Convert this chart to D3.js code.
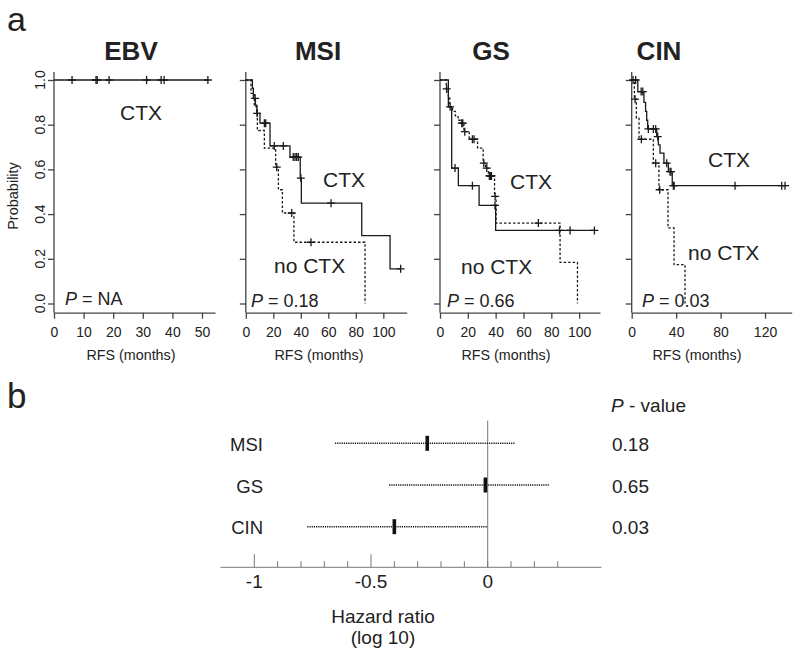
<!DOCTYPE html>
<html>
<head>
<meta charset="utf-8">
<script src="https://cdn.jsdelivr.net/npm/d3@7"></script>
<style>
  body { margin: 0; background: #fff; }
  text { font-family: "Liberation Sans", Arial, sans-serif; fill: #222; }
</style>
</head>
<body>
<svg id="chart" width="800" height="655"></svg>
<script>
// ---- Kaplan-Meier data: steps are [months, survival], censors are months ----
const ebvCtxSteps = [[0, 1]];
const ebvCtxEnd = 52;
const ebvCtxCensor = [6.1, 14.2, 14.6, 18.6, 31.3, 36.2, 37.2, 52];

const msiCtxSteps = [[0, 1], [4.8, 0.963], [5.5, 0.918], [7, 0.888], [8, 0.851], [10.3, 0.807],
  [17.6, 0.705], [32.1, 0.655], [39.6, 0.561], [40.4, 0.449], [84.3, 0.304], [104.9, 0.155]];
const msiCtxEnd = 112.6;
const msiCtxCensor = [6.8, 8.2, 13.5, 14.5, 20.7, 27.3, 34.5, 35.8, 37, 38.2, 40, 62, 112.6];

const msiNoSteps = [[0, 1], [3.8, 0.94], [6.2, 0.881], [8.4, 0.774], [13.5, 0.695], [21.7, 0.61],
  [23.7, 0.509], [26.6, 0.405], [35, 0.274], [86.7, 0]];
const msiNoEnd = 86.7;
const msiNoCensor = [22.5, 33.4, 47.4];

const gsCtxSteps = [[0, 1], [6, 0.88], [8.4, 0.606], [13.2, 0.527], [28.1, 0.439], [40, 0.327]];
const gsCtxEnd = 111;
const gsCtxCensor = [10.8, 23.3, 39.5, 85.9, 93.5, 111];

const gsNoSteps = [[0, 1], [4.5, 0.96], [6, 0.92], [7, 0.88], [9, 0.86], [11, 0.84], [13, 0.82],
  [15, 0.807], [17.2, 0.769], [21, 0.735], [27, 0.695], [31, 0.628], [32.8, 0.606], [34.8, 0.571],
  [39.2, 0.479], [40.3, 0.36], [86.3, 0.184], [98.8, 0]];
const gsNoEnd = 98.8;
const gsNoCensor = [4.8, 7.3, 15.6, 16.4, 17.8, 23.3, 24.5, 31.5, 33.6, 35.5, 36, 36.5, 37, 39.6, 70.7];

const cinCtxSteps = [[0, 1], [5.5, 0.948], [11, 0.9], [12.5, 0.86], [13.5, 0.82], [14.4, 0.781],
  [22.5, 0.747], [24, 0.71], [25.5, 0.673], [29, 0.628], [33, 0.59], [36.5, 0.527]];
const cinCtxEnd = 138;
const cinCtxCensor = [1.2, 3.6, 8.5, 10, 15, 19.5, 21.6, 23.4, 31.5, 34.5, 35.4, 37.5, 38.2, 93, 135, 138];

const cinNoSteps = [[0, 1], [2.4, 0.914], [4.2, 0.829], [6.6, 0.735], [19.5, 0.628], [24.5, 0.509],
  [32.7, 0.338], [38.1, 0.174], [48, 0]];
const cinNoEnd = 48;
const cinNoCensor = [3, 8.7, 21.6, 25.2];

const probTicks = [0, 0.2, 0.4, 0.6, 0.8, 1.0];

// ---- forest plot data (log10 hazard ratio) ----
const groups = ['MSI', 'GS', 'CIN'];
const hrEst = [-0.259, -0.01, -0.40];
const hrLo = [-0.654, -0.422, -0.773];
const hrHi = [0.117, 0.264, 0.0];
const pValues = ['0.18', '0.65', '0.03'];
const hrTicks = [-1, -0.9, -0.8, -0.7, -0.6, -0.5, -0.4, -0.3, -0.2, -0.1, 0, 0.1, 0.2, 0.3];
const hrLabels = [[-1, '-1'], [-0.5, '-0.5'], [0, '0']];

const panels = [
  { title: 'EBV', x0: 54, x1: 215, max: 54.4, ticks: [0, 10, 20, 30, 40, 50], titleX: 131, rfsX: 131,
    curves: [{ steps: ebvCtxSteps, end: ebvCtxEnd, censor: ebvCtxCensor, dashed: false }],
    texts: [{ t: 'CTX', x: 120, y: 120 }], p: 'NA', pX: 65, pY: 305, yLabels: true },
  { title: 'MSI', x0: 245.8, x1: 406.7, max: 117, ticks: [0, 20, 40, 60, 80, 100], titleX: 318, rfsX: 319,
    curves: [{ steps: msiNoSteps, end: msiNoEnd, censor: msiNoCensor, dashed: true },
             { steps: msiCtxSteps, end: msiCtxEnd, censor: msiCtxCensor, dashed: false }],
    texts: [{ t: 'CTX', x: 323, y: 187 }, { t: 'no CTX', x: 274, y: 273 }], p: '0.18', pX: 251, pY: 307 },
  { title: 'GS', x0: 440, x1: 600, max: 115, ticks: [0, 20, 40, 60, 80, 100], titleX: 491, rfsX: 506,
    curves: [{ steps: gsNoSteps, end: gsNoEnd, censor: gsNoCensor, dashed: true },
             { steps: gsCtxSteps, end: gsCtxEnd, censor: gsCtxCensor, dashed: false }],
    texts: [{ t: 'CTX', x: 510, y: 189 }, { t: 'no CTX', x: 461, y: 274 }], p: '0.66', pX: 447, pY: 307 },
  { title: 'CIN', x0: 631.7, x1: 791.7, max: 144, ticks: [0, 40, 80, 120], titleX: 659, rfsX: 697,
    curves: [{ steps: cinNoSteps, end: cinNoEnd, censor: cinNoCensor, dashed: true },
             { steps: cinCtxSteps, end: cinCtxEnd, censor: cinCtxCensor, dashed: false }],
    texts: [{ t: 'CTX', x: 708, y: 167 }, { t: 'no CTX', x: 688, y: 260 }], p: '0.03', pX: 642, pY: 307 }
];

const svg = d3.select('#chart');
const AXIS_Y = 312.7;
const y = d3.scaleLinear().domain([0, 1]).range([303.5, 80]);

function survAt(steps, t) {
  let s = steps[0][1];
  steps.forEach(d => { if (d[0] <= t) s = d[1]; });
  return s;
}

const stepLine = d3.line().curve(d3.curveStepAfter);

svg.append('text').attr('x', 7).attr('y', 31).style('font-size', '34px').text('a');
svg.append('text').attr('x', 7).attr('y', 408).style('font-size', '35px').text('b');

svg.append('text')
  .attr('transform', 'translate(18,196) rotate(-90)')
  .attr('text-anchor', 'middle')
  .style('font-size', '14.5px')
  .text('Probability');

panels.forEach(p => {
  const x = d3.scaleLinear().domain([0, p.max]).range([p.x0, p.x1]);
  const g = svg.append('g');

  // axes
  const xa = g.append('g')
    .attr('transform', `translate(0,${AXIS_Y})`)
    .style('color', '#444')
    .style('font-size', '14px')
    .call(d3.axisBottom(x).tickValues(p.ticks).tickSize(6).tickSizeOuter(0).tickPadding(8).tickFormat(d3.format('d')));
  xa.select('.domain').attr('stroke-width', 1.3);
  xa.selectAll('.tick line').attr('stroke-width', 1.3);

  const ya = g.append('g')
    .attr('transform', `translate(${p.x0},0)`)
    .style('color', '#444')
    .call(d3.axisLeft(y).tickValues(probTicks).tickSize(6).tickFormat(''));
  ya.select('.domain').remove();
  ya.selectAll('.tick line').attr('stroke-width', 1.3);
  g.append('line')
    .attr('x1', p.x0).attr('x2', p.x0).attr('y1', 72).attr('y2', AXIS_Y)
    .attr('stroke', '#444').attr('stroke-width', 1.3);

  if (p.yLabels) {
    probTicks.forEach(v => {
      g.append('text')
        .attr('transform', `translate(45,${y(v)}) rotate(-90)`)
        .attr('text-anchor', 'middle')
        .style('font-size', '14px')
        .text(d3.format('.1f')(v));
    });
  }

  // curves
  p.curves.forEach(c => {
    const pts = c.steps.map(d => [x(d[0]), y(d[1])]);
    const last = c.steps[c.steps.length - 1];
    if (last[0] < c.end) pts.push([x(c.end), y(last[1])]);
    g.append('path')
      .attr('d', stepLine(pts))
      .attr('fill', 'none')
      .attr('stroke', '#1a1a1a')
      .attr('stroke-width', 1.3)
      .attr('stroke-dasharray', c.dashed ? '2.5,2' : null);

    c.censor.forEach(t => {
      const cx = x(t), cy = y(survAt(c.steps, t));
      g.append('path')
        .attr('d', `M${cx - 4},${cy}H${cx + 4}M${cx},${cy - 4}V${cy + 4}`)
        .attr('stroke', '#1a1a1a')
        .attr('stroke-width', 1.3);
    });
  });

  // labels
  g.append('text')
    .attr('x', p.titleX).attr('y', 60)
    .attr('text-anchor', 'middle')
    .style('font-size', '26px').style('font-weight', 'bold')
    .text(p.title);

  g.append('text')
    .attr('x', p.rfsX).attr('y', 360)
    .attr('text-anchor', 'middle')
    .style('font-size', '14.3px')
    .text('RFS (months)');

  p.texts.forEach(t => {
    g.append('text').attr('x', t.x).attr('y', t.y).style('font-size', '21px').text(t.t);
  });

  const pt = g.append('text').attr('x', p.pX).attr('y', p.pY).style('font-size', '18px');
  pt.append('tspan').style('font-style', 'italic').text('P');
  pt.append('tspan').text(' = ' + p.p);
});

// ---- panel b: forest plot ----
const hx = d3.scaleLinear().domain([-1, 0]).range([254.3, 487.7]);
const ry = d3.scalePoint().domain(groups).range([443.3, 526.7]);
const FOREST_AXIS = 567.3;

const fg = svg.append('g');
fg.append('line')
  .attr('x1', hx(-1.145)).attr('x2', hx(0.487))
  .attr('y1', FOREST_AXIS).attr('y2', FOREST_AXIS)
  .attr('stroke', '#777').attr('stroke-width', 1);

fg.selectAll('.hrtick')
  .data(hrTicks)
  .enter()
  .append('line')
  .attr('x1', d => hx(d)).attr('x2', d => hx(d))
  .attr('y1', FOREST_AXIS)
  .attr('y2', d => (Math.abs(d + 1) < 1e-6 || Math.abs(d + 0.5) < 1e-6) ? FOREST_AXIS - 13 : FOREST_AXIS - 6)
  .attr('stroke', '#777').attr('stroke-width', 1);

fg.append('line')
  .attr('x1', hx(0)).attr('x2', hx(0))
  .attr('y1', 420.7).attr('y2', FOREST_AXIS)
  .attr('stroke', '#777').attr('stroke-width', 1);

hrLabels.forEach(d => {
  fg.append('text')
    .attr('x', hx(d[0])).attr('y', 588)
    .attr('text-anchor', 'middle')
    .style('font-size', '19px')
    .text(d[1]);
});

fg.append('text').attr('x', 383).attr('y', 622.5).attr('text-anchor', 'middle')
  .style('font-size', '19px').text('Hazard ratio');
fg.append('text').attr('x', 383).attr('y', 644).attr('text-anchor', 'middle')
  .style('font-size', '19px').text('(log 10)');

groups.forEach((name, i) => {
  const cy = ry(name);
  fg.append('line')
    .attr('x1', hx(hrLo[i])).attr('x2', hx(hrHi[i]))
    .attr('y1', cy).attr('y2', cy)
    .attr('stroke', '#111').attr('stroke-width', 1.4)
    .attr('stroke-dasharray', '1.2,1');
  fg.append('rect')
    .attr('x', hx(hrEst[i]) - 1.8).attr('y', cy - 7.5)
    .attr('width', 3.6).attr('height', 15)
    .attr('fill', '#111');
  fg.append('text')
    .attr('x', 263).attr('y', cy + 7.5)
    .attr('text-anchor', 'end')
    .style('font-size', '18.5px')
    .text(name);
  fg.append('text')
    .attr('x', 612).attr('y', cy + 7.5)
    .style('font-size', '19px')
    .text(pValues[i]);
});

const ph = fg.append('text').attr('x', 611).attr('y', 411.5).style('font-size', '19px');
ph.append('tspan').style('font-style', 'italic').text('P');
ph.append('tspan').text(' - value');
</script>
</body>
</html>
